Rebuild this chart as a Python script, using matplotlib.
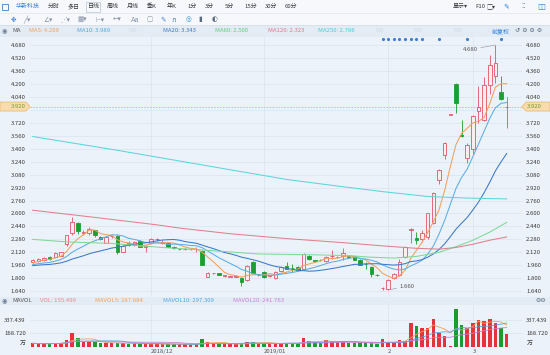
import matplotlib
matplotlib.use('Agg')
import matplotlib.pyplot as plt
import numpy as np
import pandas as pd
from matplotlib.patches import Rectangle, Polygon
import matplotlib.transforms as mtransforms

plt.rcParams['font.family'] = ['Noto Sans CJK SC', 'DejaVu Sans']

W, H = 550, 355

# ---------------- data ----------------
opens = [2.00, 2.01, 2.02, 2.06, 2.06, 2.08, 2.22, 2.36, 2.48, 2.36,
         2.355, 2.39, 2.31, 2.24, 2.32, 2.32, 2.13, 2.24, 2.21, 2.26,
         2.19, 2.24, 2.28, 2.24, 2.24, 2.19, 2.16, 2.16, 2.16, 2.16,
         2.14, 1.82, 1.86, 1.86, 1.83, 1.82, 1.82, 1.80, 1.78, 2.00,
         1.84, 1.88, 1.83, 1.80, 1.89, 1.95, 1.93, 1.94, 1.91, 2.08,
         2.02, 2.03, 2.01, 2.07, 2.06, 2.07, 2.07, 2.07, 2.03, 1.98,
         1.94, 1.845, 1.68, 1.67, 1.80, 1.84, 2.06, 2.40, 2.30, 2.29,
         2.31, 2.48, 3.01, 3.32, 3.82, 4.20, 3.57, 3.28, 3.39, 3.86,
         3.76, 4.19, 4.30, 4.10, 3.91]
highs = [2.04, 2.05, 2.06, 2.07, 2.12, 2.13, 2.34, 2.56, 2.49, 2.39,
         2.43, 2.40, 2.32, 2.32, 2.34, 2.33, 2.21, 2.26, 2.26, 2.27,
         2.21, 2.30, 2.30, 2.27, 2.25, 2.20, 2.17, 2.17, 2.17, 2.19,
         2.15, 1.88, 1.87, 1.87, 1.84, 1.83, 1.83, 1.81, 1.96, 2.01,
         1.85, 1.89, 1.84, 1.89, 1.95, 2.00, 1.98, 1.95, 2.11, 2.09,
         2.03, 2.04, 2.07, 2.15, 2.08, 2.17, 2.08, 2.08, 2.04, 2.00,
         1.95, 1.85, 1.69, 1.79, 1.86, 2.04, 2.20, 2.42, 2.37, 2.40,
         2.61, 2.86, 3.15, 3.48, 3.82, 4.21, 3.76, 3.47, 3.82, 4.18,
         4.29, 4.56, 4.68, 4.30, 4.04]
lows = [1.99, 2.00, 2.01, 2.03, 2.05, 2.07, 2.20, 2.33, 2.35, 2.34,
        2.34, 2.31, 2.27, 2.23, 2.30, 2.10, 2.12, 2.20, 2.20, 2.18,
        2.13, 2.23, 2.26, 2.22, 2.18, 2.16, 2.15, 2.15, 2.15, 2.13,
        1.96, 1.81, 1.85, 1.84, 1.82, 1.81, 1.81, 1.70, 1.77, 1.86,
        1.83, 1.80, 1.82, 1.79, 1.88, 1.91, 1.88, 1.89, 1.90, 2.03,
        2.00, 2.01, 2.00, 2.04, 2.05, 2.03, 2.05, 2.03, 1.96, 1.92,
        1.82, 1.83, 1.66, 1.66, 1.79, 1.83, 2.05, 2.23, 2.22, 2.25,
        2.28, 2.47, 2.97, 3.27, 3.82, 3.84, 3.55, 3.22, 3.33, 3.72,
        3.74, 4.07, 4.21, 4.00, 3.65]
closes = [2.03, 2.04, 2.05, 2.04, 2.11, 2.12, 2.33, 2.50, 2.38, 2.365,
          2.405, 2.33, 2.28, 2.31, 2.325, 2.13, 2.20, 2.21, 2.25, 2.19,
          2.195, 2.28, 2.285, 2.25, 2.19, 2.17, 2.16, 2.16, 2.165, 2.165,
          1.96, 1.87, 1.86, 1.84, 1.83, 1.82, 1.82, 1.76, 1.95, 1.86,
          1.84, 1.81, 1.83, 1.88, 1.94, 1.92, 1.925, 1.90, 2.10, 2.04,
          2.015, 2.025, 2.06, 2.075, 2.065, 2.11, 2.065, 2.03, 1.96, 1.975,
          1.85, 1.84, 1.68, 1.78, 1.85, 2.00, 2.19, 2.41, 2.27, 2.36,
          2.60, 2.85, 3.14, 3.47, 3.82, 3.96, 3.56, 3.45, 3.80, 3.92,
          4.19, 4.43, 4.46, 4.01, 3.92]
# closes of the sessions just before the visible window (estimated from where MA lines start)
closes_before = [1.92, 1.95, 1.97, 1.94, 1.90, 1.93, 1.96, 1.98, 1.95, 1.93,
                 1.94, 1.96, 1.97, 1.95, 1.93, 1.95, 1.97, 1.99, 2.01]
volumes = [42, 35, 35, 35, 49, 49, 84, 169, 113, 62,
           62, 55, 42, 42, 42, 48, 42, 33, 42, 33,
           33, 33, 33, 29, 29, 29, 29, 29, 20, 29,
           93, 58, 42, 33, 33, 29, 29, 42, 62, 62,
           42, 42, 42, 29, 29, 49, 42, 42, 105, 71,
           55, 49, 84, 71, 55, 71, 49, 49, 42, 42,
           42, 29, 93, 49, 49, 84, 71, 303, 261, 232,
           232, 346, 169, 135, 3, 473, 274, 240, 296, 338,
           325, 348, 305, 240, 155.499]

# long moving averages (session index, value)
ma60_idx = [0, 6, 14, 23, 30, 40, 50, 56, 60, 64, 68, 72, 75, 78, 81, 84]
ma60_val = [2.28, 2.25, 2.23, 2.18, 2.15, 2.10, 2.09, 2.08, 2.06, 2.05, 2.07, 2.12, 2.19, 2.27, 2.37, 2.49]
ma120_idx = [0, 10, 22, 26, 35, 45, 55, 62, 68, 72, 75, 78, 81, 84]
ma120_val = [2.64, 2.56, 2.46, 2.42, 2.35, 2.29, 2.24, 2.20, 2.17, 2.16, 2.18, 2.22, 2.27, 2.31]
ma250_idx = [0, 15, 30, 45, 55, 62, 70, 77, 84]
ma250_val = [3.55, 3.38, 3.20, 3.02, 2.93, 2.87, 2.81, 2.79, 2.78]

date_idx = [21, 41, 63, 78]
date_labels = ['2018/12', '2019/01', '2', '3']
price_ticks = [4.68, 4.52, 4.36, 4.20, 4.04, 3.88, 3.72, 3.56, 3.40, 3.24,
               3.08, 2.92, 2.76, 2.60, 2.44, 2.28, 2.12, 1.96, 1.80, 1.64]
last_price = 3.92
vol_ticks = [168.720, 337.439]
event_idx = [62, 63, 64, 65, 66, 67, 68, 69, 72, 77, 83]

ma_labels = [('MA5: 4.209', '#f3a05a'), ('MA10: 3.989', '#4fa6e0'),
             ('MA20: 3.343', '#3b78cc'), ('MA60: 2.500', '#5ccf7e'),
             ('MA120: 2.323', '#e07a8a'), ('MA250: 2.786', '#43cfd8')]
vol_labels = [('VOL: 155.499', '#e88a8a'), ('MAVOL5: 287.884', '#f3a05a'),
              ('MAVOL10: 297.309', '#4fa6e0'), ('MAVOL20: 241.763', '#c97fd6')]

# ---------------- colours ----------------
BG = '#ecf2f9'
RED = '#e4506a'
RED_FILL = '#fbeef1'
GREEN = '#1d9e32'
VRED = '#e6323a'
VGREEN = '#1c9c2f'
C_MA5, C_MA10, C_MA20 = '#f3a05a', '#5aaee6', '#3b78cc'
C_MA60, C_MA120, C_MA250 = '#7dd996', '#e2808c', '#5ad6dd'
GRID = '#dde6f1'
TXT = '#3a3a3a'

fig = plt.figure(figsize=(W / 100, H / 100), dpi=100)
fig.patch.set_facecolor(BG)

def fx(x):
    return x / W

def fy(y):
    return 1 - y / H

def band(y0, y1, color):
    fig.add_artist(Rectangle((0, fy(y1)), 1, (y1 - y0) / H, transform=fig.transFigure,
                             facecolor=color, edgecolor='none', zorder=0))

band(0, 25, '#f6f8fb')
band(25, 37, '#e3ebf4')
band(297, 305, '#e3ebf4')
fig.add_artist(plt.Line2D([0, 1], [fy(12.5), fy(12.5)], transform=fig.transFigure, color='#e3e8ef', lw=0.6))
fig.add_artist(plt.Line2D([0, 1], [fy(25), fy(25)], transform=fig.transFigure, color='#d6dee9', lw=0.6))

FS = 4.3

def t(x, y, s, color=TXT, fs=FS, **kw):
    fig.text(fx(x), fy(y), s, color=color, fontsize=fs, va='center', ha='left', **kw)

# toolbar row 1
fig.add_artist(Rectangle((fx(2), fy(9.5)), 6 / W, 6 / H, transform=fig.transFigure,
                         facecolor='none', edgecolor='#3d7fd6', lw=0.6))
t(16, 6.5, '华新科技', '#3d7fd6')
for x, s in [(48, '分时'), (68, '多日'), (87.5, '日线'), (107, '周线'), (127, '月线'), (147, '季K'),
             (167, '年K'), (187, '1分'), (205, '3分'), (225, '5分'), (244, '15分'), (265, '30分'), (285, '60分')]:
    t(x, 6.5, s)
fig.add_artist(Rectangle((fx(85.5), fy(11.5)), 14 / W, 10 / H, transform=fig.transFigure,
                         facecolor='none', edgecolor='#b8c4d4', lw=0.5))
t(453, 6.5, '显示▾')
t(475, 6.5, 'F10')
t(486, 6.5, '□▾')
t(503, 6.5, '✎', '#2f7fe0', fs=5)
t(521, 6.5, '⁚⁚', '#5a6a80', fs=5)
t(537, 6.5, '◫', '#3d7fd6', fs=6)

# toolbar row 2 (drawing tools)
for x, s, c in [(11, '✥', '#3d7fd6'), (23, '╱▾', '#8a96a8'), (43, '∠▾', '#8a96a8'), (60, '⋰▾', '#8a96a8'),
                (77, '▦▾', '#8a96a8'), (95, '⊢▾', '#8a96a8'), (113, '←▾', '#8a96a8'),
                (131, 'Aa', '#8a96a8'), (146, '▢', '#8a96a8'), (160, '✎', '#3d7fd6'),
                (171, '∩', '#2f6fd0'), (186, '◎', '#2f8fe0'), (198, '▮', '#5a6a80'), (212, '◐', '#5a6a80')]:
    t(x, 19.5, s, c, fs=4.8, family=['DejaVu Sans'])

# MA header row
t(2, 31, '◉', '#6a7a90', fs=4.5, family=['DejaVu Sans'])
t(12, 31, 'MA', '#555555')
for x, (s, c) in zip([29, 77, 163, 215, 268, 318], ma_labels):
    t(x, 31, s, c)
for x in [128, 375, 413, 453]:
    t(x, 31, 'MA', '#d3dde9')
t(492, 31, '前复权', '#2f7fe0')
t(515, 31, '↺ ⊖ ⊖ ⚙', '#5a6a80', fs=4.5, family=['DejaVu Sans'])

# MAVOL header row
t(2, 301, '◉', '#6a7a90', fs=4.5, family=['DejaVu Sans'])
t(12, 301, 'MAVOL', '#555555')
for x, (s, c) in zip([40, 95, 163, 233], vol_labels):
    t(x, 301, s, c)
t(535, 301, '⊖⚙', '#5a6a80', fs=4.5, family=['DejaVu Sans'])

# ---------------- main price axes ----------------
PX_PER = 5.643
XMIN = -(32.7 - 30) / PX_PER
XMAX = XMIN + (522 - 30) / PX_PER

def price_of(y):
    return 4.680 - (y - 45) / 81.0

ax = fig.add_axes([fx(30), fy(297), (522 - 30) / W, (297 - 37) / H])
ax.set_facecolor(BG)
ax.set_xlim(XMIN, XMAX)
ax.set_ylim(price_of(297), price_of(37))
for s in ax.spines.values():
    s.set_visible(False)
ax.set_yticks(price_ticks)
ax.set_yticklabels(['' if abs(v - 3.88) < 1e-6 else f'{v:.3f}' for v in price_ticks])
ax.tick_params(axis='y', length=0, labelsize=FS, labelcolor=TXT, labelleft=True, labelright=True, pad=3)
ax.set_xticks(date_idx)
ax.tick_params(axis='x', length=0, labelbottom=False)
ax.grid(True, color=GRID, lw=0.6)
ax.set_axisbelow(True)

idx = np.arange(len(closes))
o, h, l, c = map(np.asarray, (opens, highs, lows, closes))
up = c >= o
blo = np.minimum(o, c)
bhi = np.maximum(o, c)
bh = np.maximum(bhi - blo, 0.006)
cols = np.where(up, RED, GREEN)

ax.vlines(idx, l, blo, colors=cols, lw=0.6, zorder=3)
ax.vlines(idx, bhi, h, colors=cols, lw=0.6, zorder=3)
ax.bar(idx[up], bh[up], bottom=blo[up], width=0.62, facecolor=RED_FILL, edgecolor=RED, linewidth=0.6, zorder=4)
ax.bar(idx[~up], bh[~up], bottom=blo[~up], width=0.62, facecolor=GREEN, edgecolor=GREEN, linewidth=0.6, zorder=4)

allc = pd.Series(closes_before + closes)
nb = len(closes_before)
for n, col in [(5, C_MA5), (10, C_MA10), (20, C_MA20)]:
    ma = allc.rolling(n).mean().iloc[nb:].to_numpy()
    ax.plot(idx, ma, color=col, lw=0.75, zorder=5)
ax.plot(ma60_idx, ma60_val, color=C_MA60, lw=0.75, zorder=5)
ax.plot(ma120_idx, ma120_val, color=C_MA120, lw=0.75, zorder=5)
ax.plot(ma250_idx, ma250_val, color=C_MA250, lw=0.75, zorder=5)

# last price dashed line + tags
ax.axhline(last_price, color='#efb25c', lw=0.6, ls=(0, (2, 1.5)), zorder=2)
yp = fy(45 + (4.680 - last_price) * 81.0)
tag_h = 9 / H
fig.add_artist(Polygon([(fx(0), yp - tag_h / 2), (fx(26), yp - tag_h / 2), (fx(30), yp),
                        (fx(26), yp + tag_h / 2), (fx(0), yp + tag_h / 2)], closed=True,
                       transform=fig.transFigure, facecolor='#f8dcae', edgecolor='#eab66a', lw=0.5, zorder=10))
fig.add_artist(Polygon([(fx(550), yp - tag_h / 2), (fx(526), yp - tag_h / 2), (fx(522), yp),
                        (fx(526), yp + tag_h / 2), (fx(550), yp + tag_h / 2)], closed=True,
                       transform=fig.transFigure, facecolor='#f8dcae', edgecolor='#eab66a', lw=0.5, zorder=10))
fig.text(fx(26), yp, f'{last_price:.3f}', color='#6f9a2e', fontsize=FS, va='center', ha='right', zorder=11)
fig.text(fx(527), yp, f'{last_price:.3f}', color='#6f9a2e', fontsize=FS, va='center', ha='left', zorder=11)

# high / low markers
hi_i = int(np.argmax(h))
lo_i = 63
ax.annotate(f'{h[hi_i]:.3f}', xy=(hi_i, h[hi_i]), xytext=(77.6, price_of(49.5)), fontsize=FS, color='#555555',
            ha='center', va='center', arrowprops=dict(arrowstyle='-', color='#9aa4b0', lw=0.5, shrinkA=0, shrinkB=0), zorder=6)
ax.annotate(f'{l[lo_i]:.3f}', xy=(lo_i + 0.4, l[lo_i]), xytext=(66.3, price_of(286)), fontsize=FS, color='#555555',
            ha='center', va='center', arrowprops=dict(arrowstyle='-', color='#9aa4b0', lw=0.5, shrinkA=0, shrinkB=0), zorder=6)

# event dots on top
trans = mtransforms.blended_transform_factory(ax.transData, ax.transAxes)
ax.scatter(event_idx, [0.991] * len(event_idx), s=1.6, color='#3d7fd6', transform=trans, zorder=7, clip_on=False)

# ---------------- volume axes ----------------
def vol_of(y):
    return (346.6 - y) * 12.69

vax = fig.add_axes([fx(30), fy(347), (522 - 30) / W, (347 - 305) / H])
vax.set_facecolor(BG)
vax.set_xlim(XMIN, XMAX)
vax.set_ylim(vol_of(347), vol_of(305))
for s in vax.spines.values():
    s.set_visible(False)
vcols = np.where(up, VRED, VGREEN)
vax.bar(idx, volumes, width=0.62, color=vcols, zorder=3)
vs = pd.Series(volumes)
for n, col in [(5, C_MA5), (10, '#4fa6e0'), (20, '#c97fd6')]:
    vax.plot(idx, vs.rolling(n, min_periods=1).mean(), color=col, lw=0.6, zorder=4)
vax.set_yticks(vol_ticks)
vax.set_yticklabels([f'{v:.3f}' for v in vol_ticks])
vax.tick_params(axis='y', length=0, labelsize=FS, labelcolor=TXT, labelleft=True, labelright=True, pad=3)
vax.set_xticks(date_idx)
vax.set_xticklabels(date_labels)
for lab in vax.get_xticklabels():
    lab.set_horizontalalignment('left')
vax.tick_params(axis='x', length=0, labelsize=FS, labelcolor='#555555', pad=1.5)
vax.grid(True, color=GRID, lw=0.6)
vax.set_axisbelow(True)
t(19.5, 343, '万', TXT)
t(527, 343, '万', TXT)

fig.savefig('out.png', dpi=100, facecolor=fig.get_facecolor())
